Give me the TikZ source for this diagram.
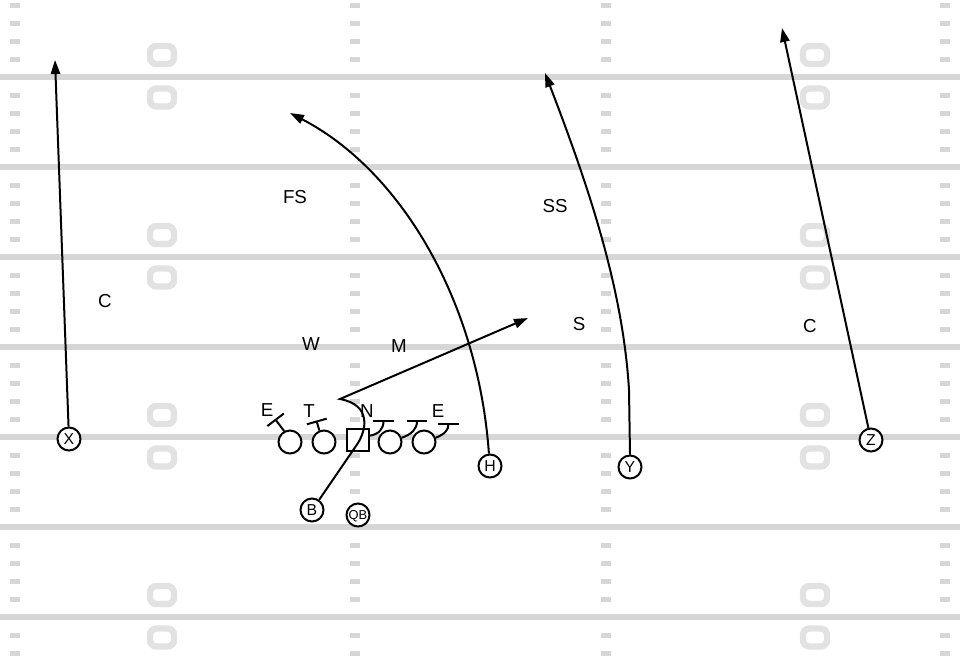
\documentclass[tikz,border=0pt]{standalone}
\usepackage{fontspec}
\setmainfont{Liberation Sans}
\usetikzlibrary{arrows.meta}
\definecolor{fieldline}{RGB}{214,214,214}
\definecolor{fieldnum}{RGB}{226,226,226}
\tikzset{
	yardline/.style={draw=fieldline, line width=5pt},
	hashmark/.style={fill=fieldline},
	yardnum/.style={draw=fieldnum, line width=5.5pt, rounded corners=5.5pt},
	player/.style={draw, circle, fill=white, line width=1.7pt, minimum size=0.69cm, inner sep=0pt, font=\fontsize{13.5}{13.5}\selectfont, text height=9.7pt, text depth=0pt},
	snapper/.style={draw, rectangle, fill=white, line width=1.7pt, minimum size=0.66cm, inner sep=0pt},
	route/.style={line width=1.7pt, -{Triangle[length=0.42cm, width=0.28cm]}},
	block/.style={line width=1.7pt, -{Bar[width=0.62cm]}},
	defender/.style={inner sep=0pt, font=\fontsize{16}{16}\selectfont, text height=11.5pt, text depth=0pt}
}

\begin{document}
\begin{tikzpicture}[x=0.03cm, y=-0.03cm]
		%%%%% FIELD %%%%%
		\useasboundingbox (0,0) rectangle (960,660);
		
		\foreach \y in {77,167,...,617} \draw[yardline] (0,\y) -- (960,\y);
		\foreach \x in {10,350,601,940}
			\foreach \b in {77,167,...,707}
				\foreach \d in {18,36,54,72}
					\fill[hashmark] (\x,\b-\d-2.5) rectangle ++(10,5);
		\foreach \b in {77,257,437,617}
			\foreach \x in {162,815} {
				\draw[yardnum] (\x-12,\b-31) rectangle ++(24,18);
				\draw[yardnum] (\x-12,\b+11.5) rectangle ++(24,18);
			}
		
		%%%%% OFFENSE %%%%%
		\node[player] (X) at (69,439) {X};
		\node[player] (H) at (490,466) {H};
		\node[player] (Y) at (630,467) {Y};
		\node[player] (Z) at (871,440) {Z};
		\node[player] (B) at (312,510) {B};
		\node[player, font=\fontsize{11}{11}\selectfont, text height=7.9pt] (QB) at (358,515) {QB};
		
		\node[player] (LT) at (290,442) {};
		\node[player] (LG) at (324,442) {};
		\node[snapper] (OC) at (358,440) {};
		\node[player] (RG) at (390,442) {};
		\node[player] (RT) at (424,442) {};
		
		%%%%% DEFENSE %%%%%
		\node[defender] (EL) at (267,410) {E};
		\node[defender] (TL) at (309,411) {T};
		\node[defender] (NT) at (367,411) {N};
		\node[defender] (ER) at (438,411) {E};
		\node[defender] (W) at (311,344) {W};
		\node[defender] (M) at (399,346) {M};
		\node[defender] (FS) at (295,197) {FS};
		\node[defender] (SS) at (555,206) {SS};
		\node[defender] (S) at (579,324) {S};
		\node[defender] (CL) at (105,301) {C};
		\node[defender] (CR) at (810,326) {C};
		
		%%%%% ROUTES %%%%%
		\draw[route] (X) -- (55,60);
		\draw[route] (Z) -- (782,28);
		\draw[route] (H.95) .. controls (478,300) and (400,170) .. (290,113);
		\draw[route] (Y.north) -- (629,390) .. controls (623,290) and (590,190) .. (545,73);
		\draw[route] (B.55) -- (358,443) .. controls (366,430) and (372,405) .. (340,399) -- (528,318);
		
		%%%%% BLOCKS %%%%%
		\draw[block] (LT.118) -- (275,419);
		\draw[block] (LG.112) -- (316.5,420.5);
		\draw[block] (OC.20) .. controls (379,434) and (383.5,429) .. (383.5,419.5);
		\draw[block] (RG.20) .. controls (412,434) and (417,429) .. (417,419.5);
		\draw[block] (RT.20) .. controls (445,434) and (448.5,430) .. (448.5,422.5);
	\end{tikzpicture}
\end{document}
